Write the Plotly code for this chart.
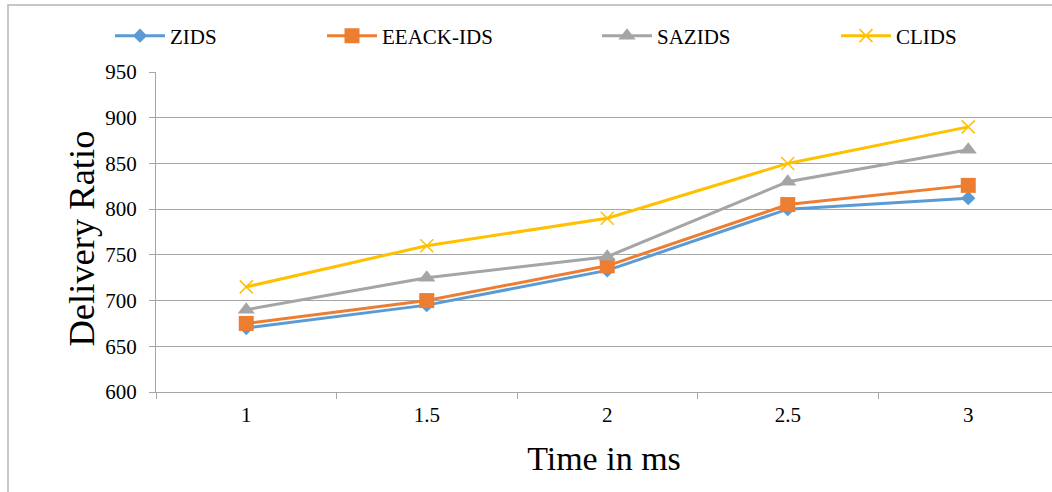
import plotly.graph_objects as go

categories = ["1", "1.5", "2", "2.5", "3"]
zids = [670, 695, 733, 800, 812]
eeack = [675, 700, 738, 805, 826]
sazids = [690, 725, 748, 830, 865]
clids = [715, 760, 790, 850, 890]
y_ticks = [600, 650, 700, 750, 800, 850, 900, 950]

FONT = "Liberation Serif"
GRID = "#a6a6a6"

series = [
    ("ZIDS", zids, "#5B9BD5", "diamond", 11, "legend"),
    ("EEACK-IDS", eeack, "#ED7D31", "square", 15, "legend2"),
    ("SAZIDS", sazids, "#A5A5A5", "triangle-up", 15, "legend3"),
    ("CLIDS", clids, "#FFC000", "x-thin", 13, "legend4"),
]

fig = go.Figure()
for name, vals, color, sym, size, lg in series:
    marker = dict(symbol=sym, size=size, color=color)
    if sym == "x-thin":
        marker["line"] = dict(color=color, width=1.5)
    fig.add_trace(go.Scatter(
        x=categories, y=vals, name=name, mode="lines+markers",
        line=dict(color=color, width=3), marker=marker, legend=lg,
    ))

L, T, W, H = 156, 72, 896, 320

def px_x(p):
    return (p - L) / W

def px_y(p):
    return 1 + (T - p) / H

legend_starts = [110, 322, 597, 836]
legend_common = dict(orientation="h", yanchor="middle", xanchor="left",
                     font=dict(family=FONT, size=21, color="#000"),
                     bgcolor="rgba(0,0,0,0)", itemwidth=50)
layout_legends = {}
for i, xs in enumerate(legend_starts):
    key = "legend" if i == 0 else f"legend{i+1}"
    layout_legends[key] = dict(legend_common, x=px_x(xs), y=px_y(36))

fig.update_layout(
    width=1052, height=492,
    margin=dict(l=L, r=0, t=T, b=492 - T - H),
    paper_bgcolor="white", plot_bgcolor="white",
    font=dict(family=FONT, color="#000", size=21),
    showlegend=True,
    **layout_legends,
    xaxis=dict(
        type="category", categoryorder="array", categoryarray=categories,
        range=[-0.5, -0.5 + W / 180.5],
        showgrid=False, showline=True, linecolor=GRID, linewidth=1,
        ticks="outside", tickson="boundaries", ticklen=6, tickcolor=GRID,
        tickfont=dict(family=FONT, size=21, color="#000"),
        ticklabelstandoff=4,
        title=dict(text="Time in ms", font=dict(family=FONT, size=34, color="#000"), standoff=19),
        zeroline=False,
    ),
    yaxis=dict(
        range=[600, 950], tickvals=y_ticks,
        showgrid=True, gridcolor=GRID, gridwidth=1,
        showline=True, linecolor=GRID, linewidth=1,
        ticks="outside", ticklen=6, tickcolor=GRID,
        tickfont=dict(family=FONT, size=21, color="#000"),
        ticklabelstandoff=8,
        zeroline=False,
    ),
    annotations=[dict(text="Delivery Ratio", xref="paper", yref="paper",
                      x=px_x(81), y=px_y(238.5), xanchor="center", yanchor="middle",
                      textangle=-90, showarrow=False,
                      font=dict(family=FONT, size=36.5, color="#000"))],
    shapes=[dict(type="rect", xref="paper", yref="paper",
                 x0=px_x(8), x1=1.2, y0=-0.6, y1=px_y(5),
                 line=dict(color="#b5b5b5", width=1.5), layer="below")],
)

fig.write_html("out.html")
